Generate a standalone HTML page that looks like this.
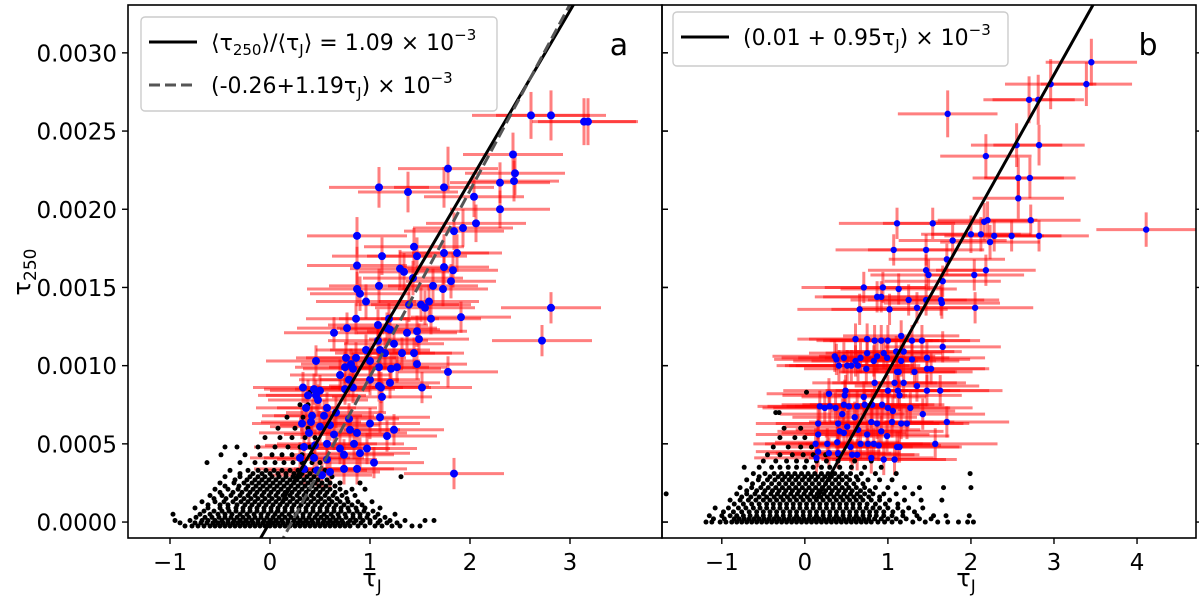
<!DOCTYPE html>
<html><head><meta charset="utf-8"><style>
html,body{margin:0;padding:0;background:#fff;width:1200px;height:612px;overflow:hidden}
svg{display:block}
svg text{font-family:"DejaVu Sans","Liberation Sans",sans-serif;fill:#000}
</style></head><body>
<svg id="chart" width="1200" height="612" viewBox="0 0 1200 612" xmlns="http://www.w3.org/2000/svg">
<g id="panelA"></g>
<g id="panelB"></g>
<text x="0" y="0" font-size="24" transform="translate(30,272) rotate(-90)" text-anchor="middle">τ<tspan font-size="17" dy="6">250</tspan></text>
<text x="372" y="586" font-size="24" text-anchor="middle">τ<tspan font-size="17" dy="6">J</tspan></text>
<text x="966" y="586" font-size="24" text-anchor="middle">τ<tspan font-size="17" dy="6">J</tspan></text>
</svg>
<script>
// ---------- data ----------
const yTicks = [0, 0.0005, 0.0010, 0.0015, 0.0020, 0.0025, 0.0030];
const yTickLabels = ["0.0000","0.0005","0.0010","0.0015","0.0020","0.0025","0.0030"];
const xTicksA = [-1,0,1,2,3];
const xTickLabelsA = ["\u22121","0","1","2","3"];
const xTicksB = [-1,0,1,2,3,4];
const xTickLabelsB = ["\u22121","0","1","2","3","4"];
// blue points panel a: [tauJ, tau250 (1e-4), xerr, yerr(1e-4)]
const blueA = [
[2.61,26.0,.59,1.5],[2.81,26.0,.55,1.6],[3.14,25.6,.52,1.5],[3.18,25.6,.5,1.5],[2.43,23.5,.5,1.4],[2.45,22.3,.5,1.4],[2.44,21.8,.45,1.3],[2.30,21.7,.5,1.3],
[1.78,22.6,.5,1.4],[1.09,21.4,.5,1.3],[1.38,21.1,.5,1.3],[1.74,21.4,.5,1.3],[2.04,20.8,.5,1.3],[2.30,20.0,.5,1.2],[2.06,19.1,.5,1.2],[1.93,18.8,.5,1.2],
[1.84,18.6,.5,1.2],[0.87,18.3,.5,1.2],[1.44,17.6,.5,1.2],[1.47,17.0,.5,1.2],[1.12,17.0,.5,1.2],[1.74,17.2,.45,1.2],[1.87,17.2,.45,1.2],[0.87,16.4,.5,1.2],
[1.30,16.2,.5,1.2],[1.34,16.0,.45,1.2],[1.74,16.3,.45,1.1],[1.83,16.1,.45,1.1],[1.43,15.6,.5,1.1],[1.81,15.4,.45,1.1],[1.09,15.1,.5,1.1],[1.63,15.1,.45,1.1],
[1.73,14.9,.45,1.1],[0.87,14.9,.5,1.1],[0.90,14.6,.5,1.1],[0.96,14.1,.5,1.1],[1.39,13.9,.5,1.1],[1.51,13.9,.5,1.1],[1.55,13.7,.5,1.1],[1.59,14.1,.5,1.1],
[2.81,13.7,.5,1.0],[1.91,13.1,.5,1.0],[1.61,13.0,.5,1.0],[0.86,13.0,.5,1.0],[1.19,13.0,.5,1.0],[1.08,12.6,.5,1.0],[0.77,12.4,.5,1.0],[0.64,12.1,.5,1.0],
[1.17,12.4,.5,1.0],[1.20,12.3,.5,1.0],[1.37,12.1,.5,1.0],[1.47,12.2,.5,1.0],[1.49,11.7,.5,1.0],[2.72,11.6,.5,1.0],[1.08,11.6,.5,1.0],[0.96,11.0,.5,1.0],
[1.10,11.0,.5,1.0],[1.24,11.4,.5,1.0],[1.15,10.8,.5,1.0],[1.32,10.8,.5,1.0],[1.44,10.8,.5,1.0],[0.46,10.3,.5,1.0],[0.76,10.5,.5,1.0],[0.86,10.5,.5,1.0],
[1.00,10.3,.5,1.0],[1.47,10.1,.5,1.0],[0.75,9.9,.5,1.0],[0.81,10.1,.5,1.0],[0.83,9.8,.5,1.0],[1.09,9.9,.5,1.0],[1.21,9.8,.5,1.0],[1.27,9.9,.5,1.0],
[1.78,9.6,.5,1.0],[0.70,9.4,.5,1.0],[0.79,9.1,.5,1.0],[1.00,9.1,.5,1.0],[1.20,8.9,.5,1.0],[1.09,8.7,.5,1.0],[1.52,8.6,.5,1.0],[0.33,8.6,.5,1.0],
[0.44,8.5,.5,1.0],[0.50,8.4,.5,1.0],[0.38,8.1,.5,1.0],[0.46,8.1,.5,1.0],[0.75,8.5,.5,1.0],[0.83,8.6,.5,1.0],[1.11,8.6,.5,1.0],[1.12,8.0,.5,1.0],
[0.48,7.8,.5,1.0],[0.36,7.3,.5,1.0],[0.57,7.3,.5,1.0],[0.42,6.8,.5,1.0],[0.54,6.8,.5,1.0],[0.66,7.0,.5,1.0],[0.79,6.6,.5,1.0],[0.32,6.3,.5,1.0],
[0.41,6.4,.5,1.0],[0.60,6.2,.5,1.0],[0.50,6.1,.5,1.0],[1.00,6.3,.5,1.0],[1.10,6.7,.5,1.0],[1.24,5.9,.5,1.0],[0.39,5.7,.5,1.0],[0.64,5.6,.5,1.0],
[0.80,5.9,.5,1.0],[0.87,5.7,.5,1.0],[1.17,5.5,.5,1.0],[0.34,4.8,.5,1.0],[0.45,4.9,.5,1.0],[0.57,5.0,.5,1.0],[0.70,4.7,.5,1.0],[0.84,5.0,.5,1.0],
[0.97,4.7,.5,1.0],[0.30,4.1,.5,1.0],[0.44,4.1,.5,1.0],[0.57,4.0,.5,1.0],[0.74,4.3,.5,1.0],[0.90,4.4,.5,1.0],[1.04,3.8,.5,1.0],[0.34,3.4,.5,1.0],
[0.47,3.3,.5,1.0],[0.60,3.2,.5,1.0],[0.74,3.4,.5,1.0],[0.87,3.4,.5,1.0],[0.52,3.0,.5,1.0],[1.84,3.1,.5,1.0]
];
// blue points panel b: [tauJ, tau250 (1e-4), xerr, yerr(1e-4)]
const blueB = [
[3.45,29.4,.55,1.5],[3.39,28.0,.55,1.4],[2.96,28.0,.55,1.6],[2.70,27.0,.55,1.5],[2.81,27.0,.55,1.6],[1.72,26.1,.6,1.5],[2.55,24.1,.55,1.4],[2.82,24.1,.55,1.3],
[2.18,23.4,.55,1.4],[2.57,22.0,.55,1.3],[2.71,22.0,.55,1.3],[2.57,20.7,.55,1.3],[1.11,19.1,.7,1.0],[1.54,19.1,.6,1.0],[2.16,19.2,.6,1.2],[2.20,19.3,.6,1.2],
[2.72,19.3,.6,1.0],[4.11,18.7,.6,1.1],[2.00,18.4,.6,1.2],[2.12,18.4,.6,1.1],[2.28,18.3,.6,1.0],[2.49,18.3,.6,1.0],[2.82,18.3,.6,1.0],[1.78,18.0,.65,1.0],
[2.23,17.9,.6,1.1],[1.07,17.4,.7,1.0],[1.46,17.4,.7,1.0],[1.71,16.8,.7,1.0],[1.46,16.1,.7,1.0],[2.18,16.1,.6,1.0],[1.49,15.8,.7,1.0],[2.04,15.8,.6,1.0],
[1.66,15.4,.7,1.0],[0.71,15.0,.75,1.0],[0.94,15.0,.7,1.0],[1.13,14.9,.7,1.0],[0.87,14.4,.75,1.0],[0.92,14.4,.7,1.0],[1.25,14.2,.7,1.0],[1.46,14.2,.7,1.0],
[1.64,14.2,.7,1.0],[1.65,14.0,.7,1.0],[0.66,13.6,.75,1.0],[1.02,13.6,.7,1.0],[1.35,13.7,.7,1.0],[2.05,13.7,.7,1.0],[0.61,11.7,.7,1.0],[0.75,11.7,.7,1.0],
[0.84,11.6,.7,1.0],[0.92,11.6,.7,1.0],[1.00,11.6,.7,1.0],[1.16,11.9,.7,1.0],[1.29,11.6,.7,1.0],[1.41,11.6,.7,1.0],[1.66,11.2,.7,1.0],[0.75,10.8,.7,1.0],
[0.87,10.6,.7,1.0],[0.95,10.8,.7,1.0],[1.10,10.9,.7,1.0],[1.19,10.9,.7,1.0],[0.36,10.6,.75,1.0],[0.38,10.4,.75,1.0],[0.47,10.5,.75,1.0],[0.61,10.3,.75,1.0],
[0.67,10.5,.75,1.0],[0.83,10.3,.75,1.0],[0.99,10.5,.75,1.0],[1.16,10.3,.7,1.0],[1.29,10.4,.7,1.0],[1.47,10.5,.7,1.0],[0.41,10.0,.75,1.0],[0.51,10.0,.75,1.0],
[0.56,10.0,.75,1.0],[0.64,10.0,.75,1.0],[0.74,9.8,.75,1.0],[1.11,9.6,.7,1.0],[1.13,9.6,.7,1.0],[1.32,9.6,.7,1.0],[1.47,9.8,.7,1.0],[1.52,9.8,.7,1.0],
[0.84,8.9,.75,1.0],[1.08,8.9,.75,1.0],[1.19,8.9,.75,1.0],[1.35,8.7,.75,1.0],[0.49,8.4,.75,1.0],[1.00,8.4,.75,1.0],[1.12,8.4,.75,1.0],[1.47,8.4,.75,1.0],
[1.63,8.4,.75,1.0],[0.29,8.2,.75,1.0],[0.48,8.1,.75,1.0],[0.71,8.0,.75,1.0],[1.14,8.1,.75,1.0],[0.18,7.4,.75,1.0],[0.24,7.3,.75,1.0],[0.30,7.4,.75,1.0],
[0.37,7.3,.75,1.0],[0.47,7.5,.75,1.0],[0.53,7.4,.75,1.0],[0.63,7.4,.75,1.0],[0.72,7.5,.75,1.0],[0.81,7.5,.75,1.0],[0.93,7.5,.75,1.0],[1.00,7.3,.75,1.0],
[1.06,7.1,.75,1.0],[1.27,7.3,.75,1.0],[1.42,6.9,.75,1.0],[0.45,6.9,.75,1.0],[0.60,6.7,.75,1.0],[0.16,6.3,.75,1.0],[0.40,6.3,.75,1.0],[0.51,6.1,.75,1.0],
[0.80,6.4,.75,1.0],[0.87,6.3,.75,1.0],[1.05,6.4,.75,1.0],[1.16,6.3,.75,1.0],[1.23,6.3,.75,1.0],[1.71,6.4,.75,1.0],[0.16,5.6,.75,1.0],[0.42,5.8,.75,1.0],
[0.47,5.7,.75,1.0],[0.64,5.9,.75,1.0],[0.75,5.6,.75,1.0],[0.92,5.8,.75,1.0],[0.99,5.5,.75,1.0],[0.13,5.0,.75,1.0],[0.27,5.0,.75,1.0],[0.39,5.1,.75,1.0],
[0.55,4.8,.75,1.0],[0.67,5.0,.75,1.0],[0.76,5.0,.75,1.0],[0.83,5.0,.75,1.0],[0.89,4.9,.75,1.0],[1.11,4.8,.75,1.0],[1.14,4.8,.75,1.0],[1.57,5.0,.75,1.0],
[0.16,4.5,.75,1.0],[0.29,4.4,.75,1.0],[0.40,4.4,.75,1.0],[0.57,4.3,.75,1.0],[0.63,4.3,.75,1.0],[0.80,4.1,.75,1.0],[0.14,4.1,.75,1.0],[0.95,4.0,.75,1.0],
[1.08,4.0,.75,1.0]
];
// black points (tau250 rows in 1e-4, tauJ values per row)
const blackARowsY = [-0.25,0.1,0.5,0.9,1.3,1.7,2.1,2.5,2.9,3.3,3.8,4.3,4.8,5.4,6.0,6.7,7.5,8.3,
  -0.05,0.3,0.7,1.1,1.5,1.9,2.3,2.7,3.1];
const blackARowsX = [
[-0.85,-0.78,-0.72,-0.66,-0.6,-0.55,-0.5,-0.45,-0.4,-0.35,-0.3,-0.25,-0.2,-0.15,-0.1,-0.05,0,0.05,0.1,0.15,0.2,0.25,0.3,0.35,0.4,0.45,0.5,0.55,0.6,0.65,0.7,0.75,0.8,0.88,0.95,1.05,1.12,1.22,1.3,1.42,1.5],
[-0.95,-0.8,-0.68,-0.62,-0.55,-0.48,-0.42,-0.36,-0.3,-0.24,-0.18,-0.12,-0.06,0.0,0.06,0.12,0.18,0.24,0.3,0.36,0.42,0.48,0.54,0.6,0.66,0.72,0.8,0.86,0.93,1.0,1.1,1.2,1.35,1.55,1.64],
[-0.97,-0.7,-0.6,-0.52,-0.45,-0.38,-0.3,-0.23,-0.16,-0.09,-0.02,0.05,0.12,0.19,0.26,0.33,0.4,0.47,0.54,0.61,0.68,0.75,0.83,0.9,0.98,1.08,1.25],
[-0.75,-0.62,-0.5,-0.42,-0.34,-0.27,-0.2,-0.13,-0.06,0.01,0.08,0.15,0.22,0.29,0.36,0.43,0.5,0.57,0.64,0.71,0.78,0.86,0.95,1.1],
[-0.68,-0.55,-0.46,-0.37,-0.29,-0.22,-0.15,-0.08,-0.01,0.06,0.13,0.2,0.27,0.34,0.41,0.48,0.55,0.62,0.7,0.78,0.88,1.02],
[-0.6,-0.48,-0.39,-0.3,-0.22,-0.15,-0.08,-0.01,0.06,0.13,0.2,0.27,0.34,0.41,0.48,0.55,0.63,0.72,0.85],
[-0.55,-0.42,-0.32,-0.24,-0.17,-0.1,-0.03,0.04,0.11,0.18,0.25,0.32,0.39,0.46,0.53,0.6,0.7,0.82,0.95],
[-0.5,-0.36,-0.26,-0.18,-0.11,-0.04,0.03,0.1,0.17,0.24,0.31,0.38,0.45,0.52,0.6,0.7,0.9],
[-0.45,-0.3,-0.2,-0.12,-0.05,0.02,0.09,0.16,0.23,0.3,0.37,0.44,0.52,0.62,1.31],
[-0.4,-0.22,-0.12,-0.04,0.04,0.12,0.2,0.28,0.36,0.44,0.55],
[-0.63,-0.3,-0.15,-0.05,0.05,0.14,0.23,0.32,0.42,0.5],
[-0.49,-0.25,-0.1,0.02,0.12,0.22,0.32,0.42],
[-0.45,-0.33,-0.12,0.05,0.18,0.3,0.4],
[-0.05,0.1,0.22,0.35,0.45],
[0.08,0.25,0.38],
[0.17,0.33],
[0.3,0.38],
[0.4],
[-0.9,-0.75,-0.69,-0.63,-0.57,-0.52,-0.47,-0.42,-0.37,-0.32,-0.27,-0.22,-0.17,-0.12,-0.07,-0.02,0.03,0.08,0.13,0.18,0.23,0.28,0.33,0.38,0.43,0.48,0.53,0.58,0.63,0.68,0.73,0.78,0.84,0.91,1.0,1.08,1.17,1.27],
[-0.74,-0.65,-0.58,-0.51,-0.45,-0.39,-0.33,-0.27,-0.21,-0.15,-0.09,-0.03,0.03,0.09,0.15,0.21,0.27,0.33,0.39,0.45,0.51,0.57,0.63,0.69,0.76,0.83,0.9,0.97,1.05,1.15],
[-0.66,-0.56,-0.48,-0.41,-0.34,-0.27,-0.2,-0.13,-0.06,0.01,0.08,0.15,0.22,0.29,0.36,0.43,0.5,0.57,0.64,0.71,0.79,0.87,0.94,1.03],
[-0.62,-0.5,-0.42,-0.33,-0.25,-0.18,-0.11,-0.04,0.03,0.1,0.17,0.24,0.31,0.38,0.45,0.52,0.59,0.66,0.74,0.82,0.92],
[-0.56,-0.44,-0.34,-0.26,-0.19,-0.12,-0.05,0.02,0.09,0.16,0.23,0.3,0.37,0.44,0.51,0.59,0.67,0.77],
[-0.5,-0.37,-0.28,-0.2,-0.13,-0.06,0.01,0.08,0.15,0.22,0.29,0.36,0.43,0.5,0.57,0.65,0.76],
[-0.45,-0.31,-0.22,-0.14,-0.07,0.0,0.07,0.14,0.21,0.28,0.35,0.42,0.49,0.56,0.65],
[-0.35,-0.23,-0.15,-0.08,-0.01,0.06,0.13,0.2,0.27,0.34,0.41,0.48,0.57],
[-0.3,-0.17,-0.08,0.0,0.08,0.16,0.24,0.32,0.4,0.48]
];
const blackBRowsY = [0.0,0.4,0.9,1.4,1.8,2.2,2.7,3.1,3.5,3.9,4.3,4.8,5.4,6.0,7.0,8.3,
  0.2,0.65,1.15,1.6,2.0,2.45,2.9];
const blackBRowsX = [
[-1.19,-1.12,-1.02,-0.95,-0.88,-0.82,-0.76,-0.7,-0.64,-0.58,-0.52,-0.46,-0.4,-0.34,-0.28,-0.22,-0.16,-0.1,-0.04,0.02,0.08,0.14,0.2,0.26,0.32,0.38,0.44,0.5,0.56,0.62,0.68,0.74,0.8,0.88,0.96,1.05,1.15,1.3,1.45,1.6,1.72,1.85,1.96,2.03],
[-1.15,-1.0,-0.9,-0.82,-0.74,-0.66,-0.58,-0.5,-0.42,-0.34,-0.26,-0.18,-0.1,-0.02,0.06,0.14,0.22,0.3,0.38,0.46,0.54,0.62,0.7,0.78,0.86,0.95,1.05,1.18,1.35,1.55,1.7,1.98],
[-1.08,-0.92,-0.8,-0.71,-0.62,-0.54,-0.46,-0.38,-0.3,-0.22,-0.14,-0.06,0.02,0.1,0.18,0.26,0.34,0.42,0.5,0.58,0.66,0.74,0.82,0.9,1.0,1.12,1.25,1.42],
[-0.9,-0.78,-0.68,-0.59,-0.5,-0.42,-0.34,-0.26,-0.18,-0.1,-0.02,0.06,0.14,0.22,0.3,0.38,0.46,0.54,0.62,0.7,0.8,0.9,1.02,1.2,1.4,1.65],
[-0.82,-0.7,-0.6,-0.5,-0.41,-0.33,-0.25,-0.17,-0.09,-0.01,0.07,0.15,0.23,0.31,0.39,0.47,0.55,0.63,0.72,0.82,0.95,1.1,1.3,-1.67],
[-0.78,-0.64,-0.53,-0.44,-0.35,-0.27,-0.19,-0.11,-0.03,0.05,0.13,0.21,0.29,0.37,0.45,0.53,0.62,0.72,0.85,1.0,1.2,1.38,1.67,2.0],
[-0.7,-0.56,-0.45,-0.36,-0.27,-0.19,-0.11,-0.03,0.05,0.13,0.21,0.29,0.37,0.45,0.54,0.64,0.76,0.9,1.05],
[-0.62,-0.48,-0.37,-0.28,-0.2,-0.12,-0.04,0.04,0.12,0.2,0.28,0.36,0.45,0.55,0.68,0.85,1.1,1.99],
[-0.73,-0.55,-0.4,-0.3,-0.2,-0.1,0.0,0.1,0.2,0.3,0.42,0.56,0.72,0.92],
[-0.5,-0.35,-0.22,-0.1,0.02,0.14,0.26,0.4,0.6,0.8],
[-0.45,-0.3,-0.15,-0.02,0.1,0.25,0.4],
[-0.38,-0.2,-0.05,0.08],
[-0.3,-0.12,0.0],
[-0.25,-0.05],
[-0.35,-0.31],
[0.02],
[-1.1,-0.97,-0.85,-0.79,-0.73,-0.67,-0.61,-0.55,-0.49,-0.43,-0.37,-0.31,-0.25,-0.19,-0.13,-0.07,-0.01,0.05,0.11,0.17,0.23,0.29,0.35,0.41,0.47,0.53,0.59,0.65,0.71,0.77,0.84,0.92,1.0,1.1,1.22,1.38,1.52],
[-0.98,-0.86,-0.76,-0.67,-0.58,-0.5,-0.42,-0.34,-0.26,-0.18,-0.1,-0.02,0.06,0.14,0.22,0.3,0.38,0.46,0.54,0.62,0.7,0.78,0.86,0.95,1.06,1.18,1.32],
[-0.85,-0.74,-0.64,-0.55,-0.46,-0.38,-0.3,-0.22,-0.14,-0.06,0.02,0.1,0.18,0.26,0.34,0.42,0.5,0.58,0.66,0.75,0.85,0.97,1.12],
[-0.76,-0.65,-0.55,-0.46,-0.37,-0.29,-0.21,-0.13,-0.05,0.03,0.11,0.19,0.27,0.35,0.43,0.51,0.59,0.67,0.77,0.9],
[-0.7,-0.58,-0.48,-0.39,-0.31,-0.23,-0.15,-0.07,0.01,0.09,0.17,0.25,0.33,0.41,0.49,0.57,0.67,0.78],
[-0.63,-0.5,-0.4,-0.31,-0.23,-0.15,-0.07,0.01,0.09,0.17,0.25,0.33,0.41,0.5,0.59,0.7],
[-0.55,-0.42,-0.32,-0.24,-0.16,-0.08,0.0,0.08,0.16,0.24,0.32,0.41,0.5,0.62]
];
// fit lines: tau250 = (a + b*tauJ) * 1e-3
const fitA1 = [0.0, 1.09];
const fitA2 = [-0.26, 1.19];
const fitB = [0.01, 0.95];

// ---------- drawing ----------
const NS = "http://www.w3.org/2000/svg";
const Y0 = 538, Y1 = 5, YMIN = -0.000102, YMAX = 0.003306;
function yScale(v){ return Y0 - (v - YMIN) / (YMAX - YMIN) * (Y0 - Y1); }
function makeX(px0, px1, dmin, dmax){ return v => px0 + (v - dmin) / (dmax - dmin) * (px1 - px0); }
const xA = makeX(128, 662, -1.42, 3.92);
const xB = makeX(662, 1196, -1.72, 4.71);
function mk(tag, attrs, parent){
  const e = document.createElementNS(NS, tag);
  for (const k in attrs) e.setAttribute(k, attrs[k]);
  parent.appendChild(e);
  return e;
}

function drawPanel(g, xs, px0, px1, blue, blueR, rowsY, rowsX, fits, xT, xTL, tag, lineFromX){
  const clipId = "clip-" + tag;
  const defs = mk("defs", {}, g);
  const cp = mk("clipPath", {id: clipId}, defs);
  mk("rect", {x: px0, y: Y1, width: px1 - px0, height: Y0 - Y1}, cp);
  const plot = mk("g", {"clip-path": "url(#" + clipId + ")"}, g);
  const eb = mk("g", {}, plot);
  
  
  blue.forEach(p => {
    const x = xs(p[0]), y = yScale(p[1] * 1e-4);
    const hl = mk("line", {x1: xs(p[0] - p[2]), x2: xs(p[0] + p[2]), y1: y, y2: y, stroke: "rgba(255,0,0,0.5)", "stroke-width": 3}, eb);
    
    
    const vl = mk("line", {x1: x, x2: x, y1: yScale((p[1] - p[3]) * 1e-4), y2: yScale((p[1] + p[3]) * 1e-4), stroke: "rgba(255,0,0,0.5)", "stroke-width": 3}, eb);
    
    
  });
  const bk = mk("g", {fill: "#000"}, plot);
  
  
  rowsY.forEach((yv, i) => {
    rowsX[i].forEach(xv => {
      const c = mk("circle", {cx: xs(xv), cy: yScale(yv * 1e-4), r: 2.5}, bk);
      
      
    });
  });
  const bl = mk("g", {fill: "#0000ff"}, plot);
  
  
  blue.forEach(p => {
    const c = mk("circle", {cx: xs(p[0]), cy: yScale(p[1] * 1e-4), r: blueR}, bl);
    
    
  });
  fits.forEach(f => {
    const x0 = lineFromX, x1 = 6;
    const ln = mk("line", {x1: xs(x0), y1: yScale((f.c[0] + f.c[1] * x0) * 1e-3), x2: xs(x1), y2: yScale((f.c[0] + f.c[1] * x1) * 1e-3),
      stroke: f.color, "stroke-width": 3, "stroke-dasharray": f.dash}, plot);
    
    
  });
  const fr = mk("rect", {x: px0, y: Y1, width: px1 - px0, height: Y0 - Y1, fill: "none", stroke: "#000", "stroke-width": 1.6}, g);
  
  
  yTicks.forEach((v, i) => {
    const y = yScale(v);
    mk("line", {x1: px0 - (tag === "a" ? 6 : 0), x2: px0 + (tag === "b" ? 6 : 0), y1: y, y2: y, stroke: "#000", "stroke-width": 1.4}, g);
    mk("line", {x1: px1, x2: Math.min(px1 + 6, 1199), y1: y, y2: y, stroke: "#000", "stroke-width": 1.4}, g);
    if (tag === "a") {
      const t = mk("text", {x: px0 - 11, y: y + 8.5, "font-size": 23, "text-anchor": "end"}, g);
      t.textContent = yTickLabels[i];
      
      
    }
  });
  xT.forEach((v, i) => {
    const x = xs(v);
    mk("line", {x1: x, x2: x, y1: Y0, y2: Y0 + 6, stroke: "#000", "stroke-width": 1.4}, g);
    const t = mk("text", {x: x, y: Y0 + 32, "font-size": 23, "text-anchor": "middle"}, g);
    t.textContent = xTL[i];
    
    
  });
}

const gA = document.getElementById("panelA");
const gB = document.getElementById("panelB");
drawPanel(gA, xA, 128, 662, blueA, 4, blackARowsY, blackARowsX,
  [{c: fitA1, color: "#000", dash: "none", name: "fit-line-ratio"}, {c: fitA2, color: "#555", dash: "11,5", name: "fit-line-linear"}],
  xTicksA, xTickLabelsA, "a", -1.5);
drawPanel(gB, xB, 662, 1196, blueB, 3.2, blackBRowsY, blackBRowsX,
  [{c: fitB, color: "#000", dash: "none", name: "fit-line-b"}],
  xTicksB, xTickLabelsB, "b", 0.13);

function legend(g, x, y, w, h, entries, name){
  const lg = mk("g", {}, g);
  
  
  mk("rect", {x: x, y: y, width: w, height: h, rx: 4, fill: "rgba(255,255,255,0.85)", stroke: "#ccc", "stroke-width": 1.4}, lg);
  entries.forEach((e, i) => {
    const cy = y + 25 + i * 43;
    mk("line", {x1: x + 8, x2: x + 56, y1: cy, y2: cy, stroke: e.color, "stroke-width": 3, "stroke-dasharray": e.dash}, lg);
    const t = mk("text", {x: x + 70, y: cy + 8, "font-size": 22}, lg);
    t.innerHTML = e.html;
    
    
  });
}
legend(gA, 141, 17, 356, 94, [
  {color: "#000", dash: "none", html: '⟨τ<tspan font-size="15" dy="5">250</tspan><tspan dy="-5">⟩/⟨τ</tspan><tspan font-size="15" dy="5">J</tspan><tspan dy="-5">⟩ = 1.09 × 10</tspan><tspan font-size="15" dy="-10">−3</tspan>'},
  {color: "#555", dash: "11,5", html: '(-0.26+1.19τ<tspan font-size="15" dy="5">J</tspan><tspan dy="-5">) × 10</tspan><tspan font-size="15" dy="-10">−3</tspan>'}
], "legend-a");
legend(gB, 673, 12, 335, 54, [
  {color: "#000", dash: "none", html: '(0.01 + 0.95τ<tspan font-size="15" dy="5">J</tspan><tspan dy="-5">) × 10</tspan><tspan font-size="15" dy="-10">−3</tspan>'}
], "legend-b");
const la = mk("text", {x: 619, y: 55, "font-size": 30, "text-anchor": "middle"}, gA);
la.textContent = "a";


const lb = mk("text", {x: 1148, y: 55, "font-size": 30, "text-anchor": "middle"}, gB);
lb.textContent = "b";


</script>
</body></html>
